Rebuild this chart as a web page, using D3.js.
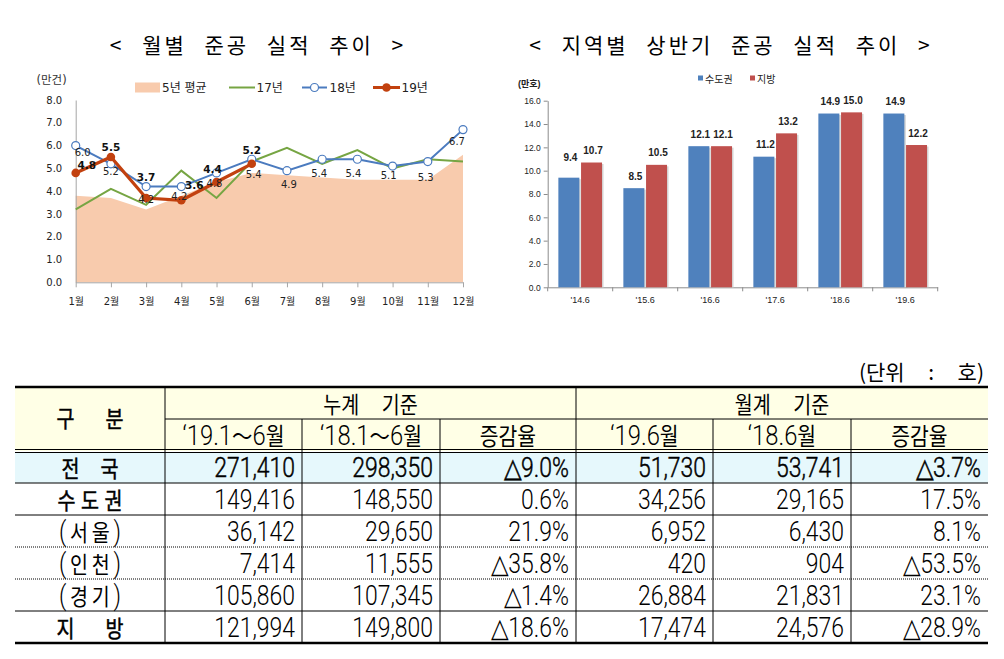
<!DOCTYPE html>
<html><head><meta charset="utf-8">
<script src="https://cdn.jsdelivr.net/npm/d3@7"></script>
<style>body{margin:0;background:#fff}svg{display:block}</style>
</head><body>
<svg id="c" width="1004" height="659"></svg>
<script>
// ---------- data ----------
const months = ["1월","2월","3월","4월","5월","6월","7월","8월","9월","10월","11월","12월"];
const avg5 = [3.8,3.7,3.2,3.8,4.4,4.8,4.7,4.6,4.5,4.5,4.5,5.6];
const y17  = [3.2,4.1,3.4,4.9,3.7,5.3,5.9,5.2,5.8,5.0,5.4,5.3];
const y18  = [6.0,5.2,4.2,4.2,4.8,5.4,4.9,5.4,5.4,5.1,5.3,6.7];
const y19  = [4.8,5.5,3.7,3.6,4.4,5.2];
const yTicksL = [0,1,2,3,4,5,6,7,8];

const periods = ["'14.6","'15.6","'16.6","'17.6","'18.6","'19.6"];
const seriesR = ["수도권","지방"];
const metro = [9.4,8.5,12.1,11.2,14.9,14.9];
const local = [10.7,10.5,12.1,13.2,15.0,12.2];
const yTicksR = [0,2,4,6,8,10,12,14,16];

const rowLabels = ["전 국","수도권","(서울)","(인천)","(경기)","지 방"];
const groupHeads = ["누계    기준","월계    기준"];
const subHeads = ["‘19.1～6월","‘18.1～6월","증감율","‘19.6월","‘18.6월","증감율"];
const cum19 = [271410,149416,36142,7414,105860,121994];
const cum18 = [298350,148550,29650,11555,107345,149800];
const cumRate = ["△9.0%","0.6%","21.9%","△35.8%","△1.4%","△18.6%"];
const mon19 = [51730,34256,6952,420,26884,17474];
const mon18 = [53741,29165,6430,904,21831,24576];
const monRate = ["△3.7%","17.5%","8.1%","△53.5%","23.1%","△28.9%"];

// ---------- drawing ----------
const svg = d3.select("#c");
const KR = "'Noto Sans CJK KR'";
const LF = "'DejaVu Sans','Noto Sans CJK KR'";

// titles
svg.append("text").attr("x",258).attr("y",52.5).attr("text-anchor","middle")
  .style("letter-spacing","3px").style("word-spacing","10px").style("font-family",KR).style("font-size","21px")
  .text("< 월별 준공 실적 추이 >");
svg.append("text").attr("x",731).attr("y",52.5).attr("text-anchor","middle")
  .style("letter-spacing","3px").style("word-spacing","10px").style("font-family",KR).style("font-size","21px")
  .text("< 지역별 상반기 준공 실적 추이 >");

// ===== left chart =====
const gL = svg.append("g");
const xL = d3.scalePoint().domain(months).range([75.7,463]);
const yL = d3.scaleLinear().domain([0,8]).range([282.3,100]);
const C17 = "#76A543", C18 = "#4B7BBF", C19 = "#C2410F", CAVG = "#F8CBAD";

gL.append("path").datum(avg5)
  .attr("d", d3.area().x((d,i)=>xL(months[i])).y0(yL(0)).y1(d=>yL(d)))
  .attr("fill",CAVG);

const ay = gL.append("g").attr("transform",`translate(${xL(months[0])},0)`)
  .call(d3.axisLeft(yL).tickValues(yTicksL).tickFormat(d3.format(".1f")).tickSize(0).tickPadding(13.5));
ay.select(".domain").attr("stroke","#a6a6a6");
ay.selectAll("text").style("font-family",LF).style("font-size","10px").attr("fill","#222");

const ax = gL.append("g").attr("transform",`translate(0,${yL(0)})`)
  .call(d3.axisBottom(xL).tickSize(5).tickSizeOuter(0).tickPadding(11));
ax.select(".domain").attr("stroke","#a6a6a6");
ax.selectAll("line").attr("stroke","#a6a6a6");
ax.selectAll("text").style("font-family",LF).style("font-size","10px").attr("fill","#222");

gL.append("text").attr("x",36.5).attr("y",84).style("font-family",LF).style("font-size","11.5px")
  .attr("fill","#333").text("(만건)");

const lineL = d3.line().x((d,i)=>xL(months[i])).y(d=>yL(d));
gL.append("path").datum(y17).attr("d",lineL).attr("fill","none").attr("stroke",C17).attr("stroke-width",2);
gL.append("path").datum(y18).attr("d",lineL).attr("fill","none").attr("stroke",C18).attr("stroke-width",2);
gL.selectAll(".m18").data(y18).join("circle").attr("cx",(d,i)=>xL(months[i])).attr("cy",d=>yL(d))
  .attr("r",4).attr("fill","#fff").attr("stroke",C18).attr("stroke-width",1.2);
gL.append("path").datum(y19).attr("d",lineL).attr("fill","none").attr("stroke",C19).attr("stroke-width",3.2);
gL.selectAll(".m19").data(y19).join("circle").attr("cx",(d,i)=>xL(months[i])).attr("cy",d=>yL(d))
  .attr("r",4.3).attr("fill",C19);

// label offsets (layout)
const off18 = [[7,7],[0,8],[0,13],[-2,10],[-2,11],[2,15],[2,14],[-3,14],[-4,14],[-4,9],[-2,16],[-6,12]];
const off19 = [[11,-8],[0,-10],[0,-21],[13,-15],[-4,-13],[0,-14]];
gL.selectAll(".l18").data(y18).join("text")
  .attr("x",(d,i)=>xL(months[i])+off18[i][0]).attr("y",(d,i)=>yL(d)+off18[i][1])
  .attr("text-anchor","middle").attr("dominant-baseline","central")
  .style("font-family",LF).style("font-size","10px").attr("fill","#222").text(d=>d.toFixed(1));
gL.selectAll(".l19").data(y19).join("text")
  .attr("x",(d,i)=>xL(months[i])+off19[i][0]).attr("y",(d,i)=>yL(d)+off19[i][1])
  .attr("text-anchor","middle").attr("dominant-baseline","central")
  .style("font-family",LF).style("font-size","10.5px").style("font-weight","bold").attr("fill","#111").text(d=>d.toFixed(1));

// legend left
const lgY = 87.5;
const lg = gL.append("g").style("font-family",LF).style("font-size","12px").attr("fill","#222");
lg.append("rect").attr("x",135).attr("y",lgY-5).attr("width",25).attr("height",10).attr("fill",CAVG);
lg.append("text").attr("x",162).attr("y",lgY).attr("dominant-baseline","central").text("5년 평균");
lg.append("line").attr("x1",229).attr("x2",255).attr("y1",lgY).attr("y2",lgY).attr("stroke",C17).attr("stroke-width",2);
lg.append("text").attr("x",256.5).attr("y",lgY).attr("dominant-baseline","central").text("17년");
lg.append("line").attr("x1",302).attr("x2",327).attr("y1",lgY).attr("y2",lgY).attr("stroke",C18).attr("stroke-width",2);
lg.append("circle").attr("cx",314.5).attr("cy",lgY).attr("r",4).attr("fill","#fff").attr("stroke",C18).attr("stroke-width",1.2);
lg.append("text").attr("x",329.5).attr("y",lgY).attr("dominant-baseline","central").text("18년");
lg.append("line").attr("x1",373).attr("x2",400).attr("y1",lgY).attr("y2",lgY).attr("stroke",C19).attr("stroke-width",3);
lg.append("circle").attr("cx",386.5).attr("cy",lgY).attr("r",4.3).attr("fill",C19);
lg.append("text").attr("x",401.5).attr("y",lgY).attr("dominant-baseline","central").text("19년");

// ===== right chart =====
const gR = svg.append("g");
const CB = "#4F81BD", CR = "#C0504D";
const xR = d3.scaleBand().domain(periods).range([547.7,937.7]);
const x1 = d3.scaleBand().domain(seriesR).range([0,xR.bandwidth()]).paddingInner(0.075).paddingOuter(0.47);
const yR = d3.scaleLinear().domain([0,16]).range([287.3,100.7]);
const RF = "'Liberation Sans','Noto Sans CJK KR'";

const ayR = gR.append("g").attr("transform","translate(547.7,0)")
  .call(d3.axisLeft(yR).tickValues(yTicksR).tickFormat(d3.format(".1f")).tickSize(4).tickSizeOuter(0).tickPadding(3));
ayR.select(".domain").attr("stroke","#8c8c8c");
ayR.selectAll("line").attr("stroke","#8c8c8c");
ayR.selectAll("text").style("font-family",RF).style("font-size","8.5px").attr("fill","#222");

const axR = gR.append("g").attr("transform",`translate(0,${yR(0)})`)
  .call(d3.axisBottom(xR).tickSize(0).tickPadding(9));
axR.select(".domain").attr("stroke","#8c8c8c");
axR.selectAll("text").style("font-family",RF).style("font-size","9px").attr("fill","#222");
axR.selectAll(".bt").data(periods.concat(["end"])).join("line")
  .attr("x1",(d,i)=>xR.range()[0]+i*xR.step()).attr("x2",(d,i)=>xR.range()[0]+i*xR.step())
  .attr("y1",0).attr("y2",4).attr("stroke","#8c8c8c");

const barData = periods.flatMap((p,i)=>[{p,s:"수도권",v:metro[i],c:CB},{p,s:"지방",v:local[i],c:CR}]);
gR.selectAll(".sh").data(barData).join("rect")
  .attr("x",d=>xR(d.p)+x1(d.s)+1.5).attr("y",d=>yR(d.v)+1.5)
  .attr("width",x1.bandwidth()).attr("height",d=>yR(0)-yR(d.v)-1.5).attr("fill","#d6d6d6");
gR.selectAll(".bar").data(barData).join("rect")
  .attr("x",d=>xR(d.p)+x1(d.s)).attr("y",d=>yR(d.v))
  .attr("width",x1.bandwidth()).attr("height",d=>yR(0)-yR(d.v)).attr("fill",d=>d.c);
gR.selectAll(".bl").data(barData).join("text")
  .attr("x",d=>xR(d.p)+x1(d.s)+x1.bandwidth()/2+1.5)
  .attr("y",(d,i)=>yR(d.v)-(i===0?20:12))
  .attr("text-anchor","middle").attr("dominant-baseline","central")
  .style("font-family",RF).style("font-size","10px").style("font-weight","bold").attr("fill","#222")
  .text(d=>d.v.toFixed(1));

gR.append("text").attr("x",518).attr("y",83.5).attr("dominant-baseline","central")
  .style("font-family",RF).style("font-size","9px").style("font-weight","bold").attr("fill","#222").text("(만호)");
const lgR = gR.append("g").style("font-family",KR).style("font-size","10px").attr("fill","#222");
lgR.append("rect").attr("x",698).attr("y",75.5).attr("width",5).attr("height",5).attr("fill",CB);
lgR.append("text").attr("x",705).attr("y",78.5).attr("dominant-baseline","central").text(seriesR[0]);
lgR.append("rect").attr("x",750).attr("y",75.5).attr("width",5).attr("height",5).attr("fill",CR);
lgR.append("text").attr("x",757).attr("y",78.5).attr("dominant-baseline","central").text(seriesR[1]);

// ===== table =====
const gT = svg.append("g");
const colX = [15,165,302,440,576,713,851,988];
const rowY = [387,419,451,483,515,547,579,611,643];
const SX = 0.85;
const NUMF = "Roboto,'Liberation Sans','DejaVu Sans'";

gT.append("rect").attr("x",colX[0]).attr("y",rowY[0]).attr("width",colX[7]-colX[0]).attr("height",rowY[2]-rowY[0]).attr("fill","#FFFFE6");
gT.append("rect").attr("x",colX[0]).attr("y",rowY[2]+1.5).attr("width",colX[7]-colX[0]).attr("height",rowY[3]-rowY[2]-1.5).attr("fill","#E6F8FC");

function rich(t, str, ns, ks){
  const runs = str.match(/[가-힣～]+|[^가-힣～]+/g);
  runs.forEach(r=>{
    const k = /[가-힣～]/.test(r);
    const sp = t.append("tspan").style("font-family", k ? KR : NUMF)
      .style("font-size",(k?ks:ns)+"px").text(r);
    if(!k) sp.style("font-weight","300");
  });
}
function cell(x, cy, str, anchor, opt={}){
  const t = gT.append("text").attr("transform",`translate(${x},${cy+9.5}) scale(${SX},1)`)
    .attr("text-anchor",anchor).attr("fill","#000").style("white-space","pre");
  if(opt.tl) t.attr("textLength",opt.tl/SX).attr("lengthAdjust","spacing");
  if(opt.bold) t.attr("stroke","#000").attr("stroke-width",opt.bold);
  rich(t,str,opt.ns||27,opt.ks||23);
  return t;
}
const mid = (a,b)=>(a+b)/2;

// unit
svg.append("text").attr("x",984).attr("y",379.5).attr("text-anchor","end").style("white-space","pre")
  .style("font-family",KR).style("font-size","21px").text("(단위     :     호)");

// header
cell(mid(colX[0],colX[1]), mid(rowY[0],rowY[2])-1.5, "구분", "middle", {tl:67, bold:0.5});
cell(mid(colX[1],colX[4]), mid(rowY[0],rowY[1]), groupHeads[0], "middle");
cell(mid(colX[4],colX[7]), mid(rowY[0],rowY[1]), groupHeads[1], "middle");
subHeads.forEach((s,i)=>cell(mid(colX[i+1],colX[i+2]), mid(rowY[1],rowY[2]), s, "middle", {ns:28, ks:24}));

// body
const fmt = d3.format(",");
const labTL = [57,65,62,62,62,67];
rowLabels.forEach((lab,r)=>{
  const cy = mid(rowY[r+2],rowY[r+3]) + (r===0?0.8:0);
  cell(mid(colX[0],colX[1]), cy, lab.replace(" ",""), "middle", {tl:labTL[r], bold: (r===0||r===1||r===5)?0.5:0});
  const vals = [fmt(cum19[r]),fmt(cum18[r]),cumRate[r],fmt(mon19[r]),fmt(mon18[r]),monRate[r]];
  vals.forEach((v,c)=>cell(colX[c+2]-7, cy, v, "end", {bold: r===0?0.45:0}));
});

// lines
const L = (x1,y1,x2,y2,w,dash)=>{const l=gT.append("line").attr("x1",x1).attr("y1",y1).attr("x2",x2).attr("y2",y2)
  .attr("stroke","#000").attr("stroke-width",w); if(dash) l.attr("stroke-dasharray",dash); return l;};
L(colX[0],rowY[0],colX[7],rowY[0],2.5);
L(colX[1],rowY[1],colX[7],rowY[1],1);
L(colX[0],rowY[2]-1.5,colX[7],rowY[2]-1.5,1);
L(colX[0],rowY[2]+1.5,colX[7],rowY[2]+1.5,1);
L(colX[0],rowY[3],colX[7],rowY[3],1);
L(colX[0],rowY[4],colX[7],rowY[4],1);
L(colX[0],rowY[5],colX[7],rowY[5],1,"1,1");
L(colX[0],rowY[6],colX[7],rowY[6],1,"1,1");
L(colX[0],rowY[7],colX[7],rowY[7],1);
L(colX[0],rowY[8],colX[7],rowY[8],2.5);
[1,4].forEach(i=>L(colX[i],rowY[0],colX[i],rowY[8],1));
[2,3,5,6].forEach(i=>L(colX[i],rowY[1],colX[i],rowY[8],1));
</script>
</body></html>
